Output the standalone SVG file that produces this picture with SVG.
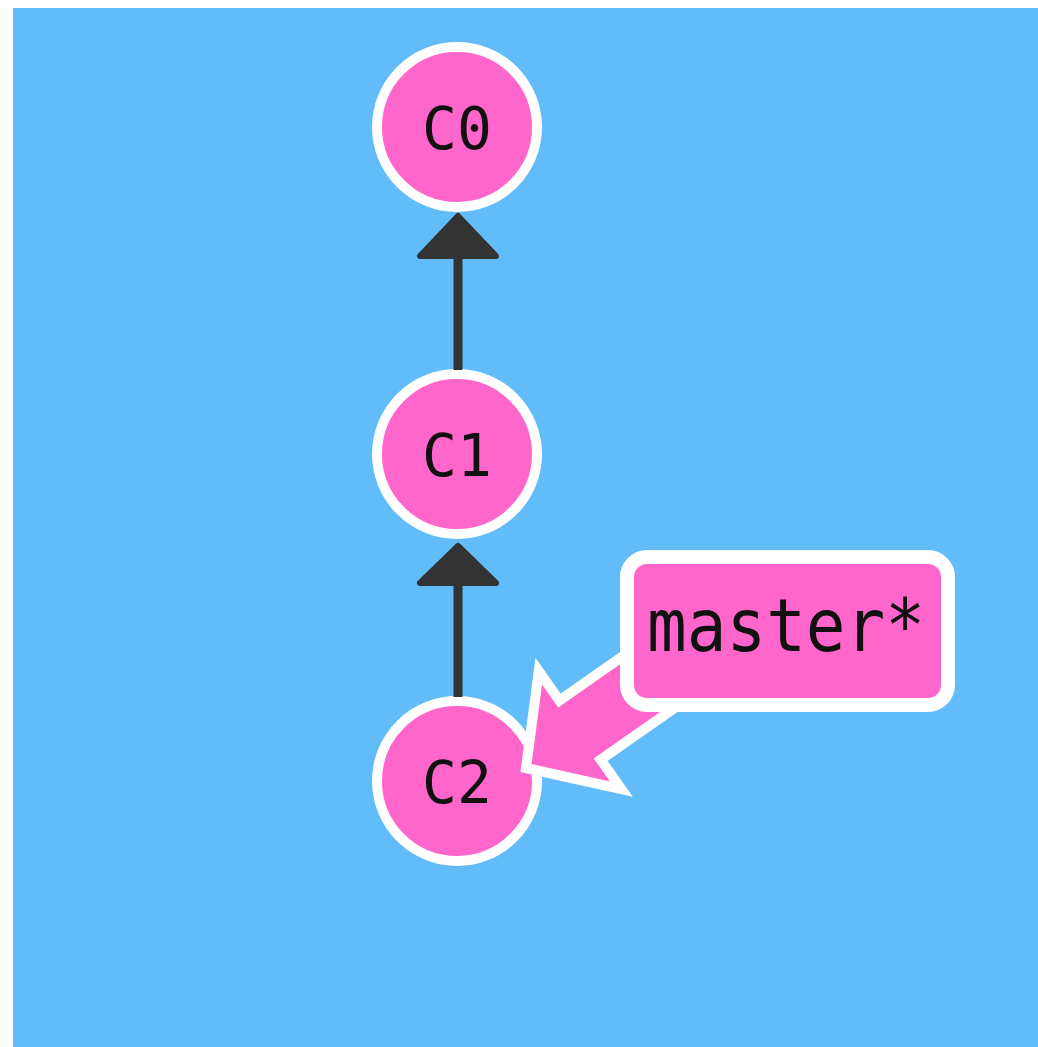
<svg xmlns="http://www.w3.org/2000/svg" width="1038" height="1047" viewBox="0 0 1038 1047">
  <style>
    .commit circle { fill: #ff66cc; stroke: #ffffff; stroke-width: 10; }
    .commit text { font-family: "DejaVu Sans Mono", "Liberation Mono", monospace; font-size: 58px; fill: #111111; text-anchor: middle; }
    .edge line { stroke: #333333; stroke-width: 9; }
    .edge polygon { fill: #333333; stroke: #333333; stroke-width: 6; stroke-linejoin: round; }
    .branch .box { fill: #ff66cc; stroke: #ffffff; stroke-width: 14; }
    .branch .pointer { fill: #ff66cc; stroke: #ffffff; stroke-width: 10; stroke-linejoin: miter; }
    .branch text { font-family: "DejaVu Sans Mono", "Liberation Mono", monospace; font-size: 66px; fill: #111111; text-anchor: middle; }
  </style>
  <rect x="0" y="0" width="1038" height="1047" fill="#ffffff"/>
  <rect x="13" y="8" width="1025" height="1039" fill="#61bcf9"/>

  <g id="C0" class="commit">
    <circle cx="457" cy="127" r="80"/>
    <text x="457" y="149">C0</text>
  </g>
  <g id="C1" class="commit">
    <circle cx="457" cy="454" r="80"/>
    <text x="457" y="476">C1</text>
  </g>
  <g id="C2" class="commit">
    <circle cx="457" cy="781" r="80"/>
    <text x="457" y="803">C2</text>
  </g>

  <g id="connectors">
    <g class="edge">
      <line x1="458" y1="370" x2="458" y2="255"/>
      <polygon points="458,216 420,256 496,256"/>
    </g>
    <g class="edge">
      <line x1="458" y1="697" x2="458" y2="582"/>
      <polygon points="458,546 420,583 496,583"/>
    </g>
  </g>

  <g id="master" class="branch">
    <polygon class="pointer" transform="translate(526,768) rotate(-35)" points="0,0 66,-72 66,-36 215,-36 215,36 66,36 66,72"/>
    <rect class="box" x="627" y="557" width="321" height="148" rx="20" ry="20"/>
    <text x="786" y="592" transform="scale(1,1.1)">master*</text>
  </g>
</svg>
